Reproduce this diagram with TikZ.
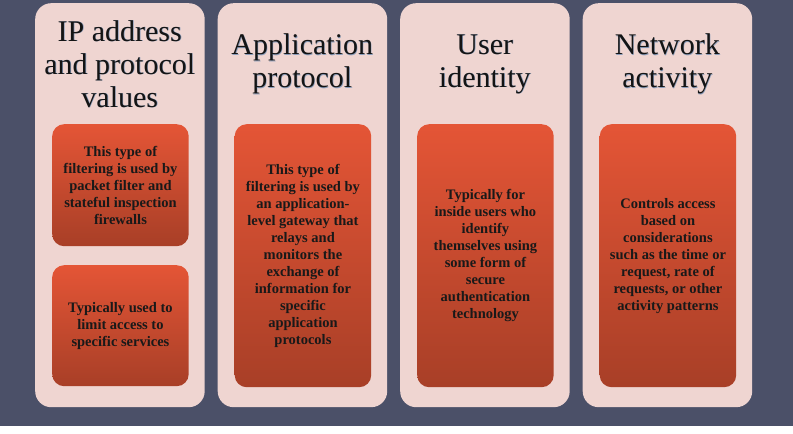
\documentclass[tikz,border=0pt]{standalone}
\usepackage{fontspec}
\setmainfont{Liberation Serif}
\definecolor{bgslate}{HTML}{4B5068}
\definecolor{panelpink}{HTML}{EFD5D1}
\definecolor{boxtop}{HTML}{E45536}
\definecolor{boxmid}{HTML}{D24C31}
\definecolor{boxbot}{HTML}{A83F27}
\definecolor{titleshadow}{HTML}{3A5A8C}
\tikzset{
  panel/.style={fill=panelpink, rounded corners=16pt, minimum width=169.5pt, minimum height=404pt, anchor=north west, inner sep=0pt},
  box/.style={top color=boxtop, middle color=boxmid, bottom color=boxbot, rounded corners=12pt, anchor=north west, inner sep=0pt, minimum width=136.5pt, align=center, font=\bfseries\fontsize{14.5}{17}\selectfont, text=black!90},
  titletext/.style={align=center, font=\fontsize{30}{33}\selectfont, text=black!92},
  titleshade/.style={titletext, text=titleshadow!60}
}
\begin{document}
\begin{tikzpicture}[x=1pt,y=-1pt]
\useasboundingbox (0,0) rectangle (793,434);
\fill[bgslate] (0,0) rectangle (793,426);
\fill[white] (0,426) rectangle (793,434);
% panels
\node[panel] (p1) at (35,3) {};
\node[panel] (p2) at (217.5,3) {};
\node[panel] (p3) at (400,3) {};
\node[panel] (p4) at (582.5,3) {};
% titles
\node[titleshade] (t1s) at (120.4,64.7) {IP address\\and protocol\\values};
\node[titletext] (t1) at (119.8,64) {IP address\\and protocol\\values};
\node[titleshade] (t2s) at (302.9,64.7) {Application\\protocol};
\node[titletext] (t2) at (302.3,64) {Application\\protocol};
\node[titleshade] (t3s) at (485.4,64.7) {User\\identity};
\node[titletext] (t3) at (484.8,64) {User\\identity};
\node[titleshade] (t4s) at (667.9,64.7) {Network\\activity};
\node[titletext] (t4) at (667.3,64) {Network\\activity};
% boxes
\node[box, minimum height=122pt] (b1a) at (52,124) {This type of\\filtering is used by\\packet filter and\\stateful inspection\\firewalls};
\node[box, minimum height=121pt] (b1b) at (52,265) {Typically used to\\limit access to\\specific services};
\node[box, minimum height=263pt] (b2) at (234.5,124) {This type of\\filtering is used by\\an application-\\level gateway that\\relays and\\monitors the\\exchange of\\information for\\specific\\application\\protocols};
\node[box, minimum height=263pt] (b3) at (417,124) {Typically for\\inside users who\\identify\\themselves using\\some form of\\secure\\authentication\\technology};
\node[box, minimum height=263pt] (b4) at (599.5,124) {Controls access\\based on\\considerations\\such as the time or\\request, rate of\\requests, or other\\activity patterns};
\end{tikzpicture}
\end{document}
